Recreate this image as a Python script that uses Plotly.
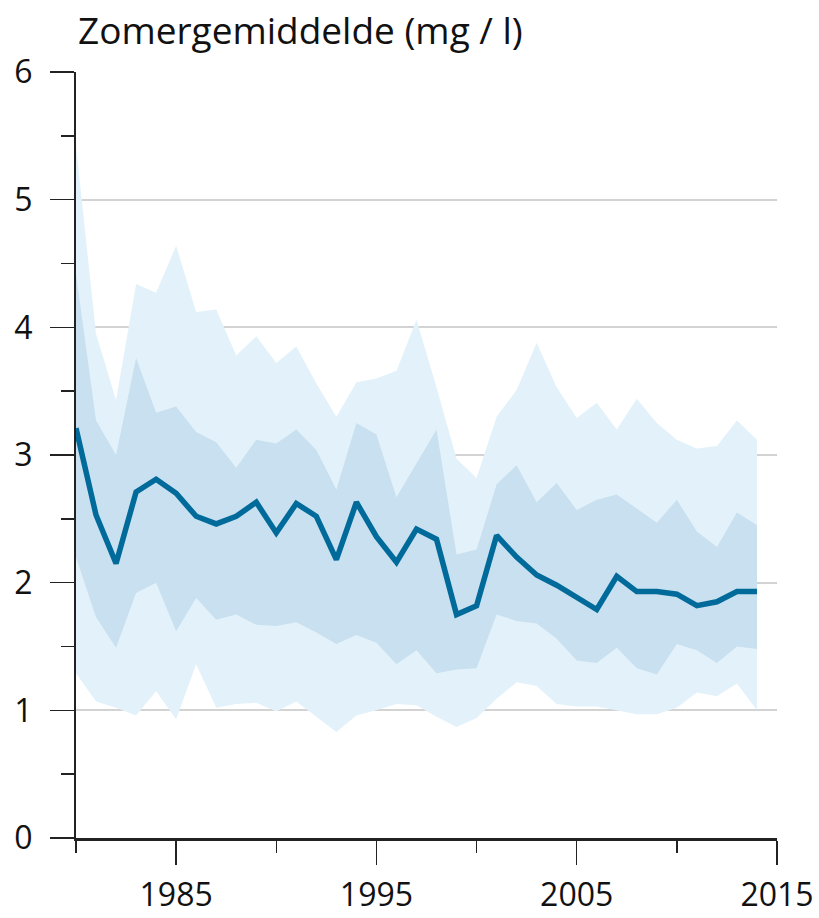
import plotly.graph_objects as go

years = list(range(1980, 2015))

mean_vals = [3.21, 2.53, 2.15, 2.71, 2.81, 2.70, 2.52, 2.46, 2.52, 2.63,
             2.39, 2.62, 2.52, 2.18, 2.63, 2.36, 2.16, 2.42, 2.34, 1.75,
             1.82, 2.37, 2.20, 2.06, 1.98, 1.88, 1.79, 2.05, 1.93, 1.93,
             1.91, 1.82, 1.85, 1.93, 1.93]

outer_upper = [5.42, 3.95, 3.43, 4.34, 4.27, 4.64, 4.12, 4.14, 3.78, 3.93,
               3.72, 3.85, 3.56, 3.30, 3.57, 3.60, 3.66, 4.06, 3.53, 2.97,
               2.82, 3.30, 3.51, 3.88, 3.53, 3.29, 3.41, 3.20, 3.44, 3.25,
               3.12, 3.05, 3.07, 3.27, 3.12]

inner_upper = [4.42, 3.27, 3.00, 3.76, 3.33, 3.38, 3.18, 3.10, 2.90, 3.12,
               3.09, 3.20, 3.04, 2.73, 3.25, 3.16, 2.67, 2.93, 3.20, 2.22,
               2.26, 2.77, 2.92, 2.63, 2.78, 2.57, 2.65, 2.69, 2.58, 2.47,
               2.65, 2.40, 2.28, 2.55, 2.45]

inner_lower = [2.20, 1.73, 1.49, 1.92, 2.00, 1.62, 1.88, 1.71, 1.75, 1.67,
               1.66, 1.69, 1.61, 1.52, 1.59, 1.53, 1.36, 1.47, 1.29, 1.32,
               1.33, 1.75, 1.70, 1.68, 1.56, 1.39, 1.37, 1.49, 1.33, 1.28,
               1.52, 1.47, 1.37, 1.50, 1.48]

outer_lower = [1.29, 1.07, 1.02, 0.96, 1.15, 0.93, 1.36, 1.02, 1.05, 1.06,
               0.99, 1.07, 0.95, 0.83, 0.96, 1.00, 1.05, 1.04, 0.95, 0.87,
               0.94, 1.09, 1.22, 1.19, 1.05, 1.03, 1.03, 1.00, 0.97, 0.97,
               1.02, 1.14, 1.11, 1.21, 1.00]

y_tickvals = [0, 1, 2, 3, 4, 5, 6]
x_tickvals = [1985, 1995, 2005, 2015]
title_text = "Zomergemiddelde (mg / l)"

LIGHT = "#e3f2fa"
MEDIUM = "#c8e0ef"
LINE = "#006b9b"
FONT = "Open Sans"
TXT = "#111111"

fig = go.Figure()
fig.add_trace(go.Scatter(x=years, y=outer_lower, mode="lines",
                         line=dict(width=0, color=LIGHT), hoverinfo="skip"))
fig.add_trace(go.Scatter(x=years, y=outer_upper, mode="lines", fill="tonexty",
                         fillcolor=LIGHT, line=dict(width=0, color=LIGHT), hoverinfo="skip"))
fig.add_trace(go.Scatter(x=years, y=inner_lower, mode="lines",
                         line=dict(width=0, color=MEDIUM), hoverinfo="skip"))
fig.add_trace(go.Scatter(x=years, y=inner_upper, mode="lines", fill="tonexty",
                         fillcolor=MEDIUM, line=dict(width=0, color=MEDIUM), hoverinfo="skip"))
fig.add_trace(go.Scatter(x=years, y=mean_vals, mode="lines",
                         line=dict(width=5.5, color=LINE, shape="linear"),
                         cliponaxis=False))

fig.update_layout(
    width=819, height=918,
    margin=dict(l=76, r=42, t=72, b=80, pad=0, autoexpand=False),
    paper_bgcolor="white", plot_bgcolor="white",
    showlegend=False,
    font=dict(family=FONT, size=28, color=TXT),
    annotations=[dict(text=title_text, xref="paper", yref="paper", x=0, y=1,
                      xanchor="left", yanchor="middle", xshift=0, yshift=43,
                      showarrow=False, font=dict(family=FONT, size=37, color=TXT))],
)

fig.update_xaxes(
    range=[1980, 2015], tickvals=x_tickvals, ticktext=[str(v) for v in x_tickvals],
    ticks="outside", ticklen=24, tickwidth=1.5, tickcolor="#222222",
    showgrid=False, zeroline=False, automargin=False,
    showline=True, linecolor="#222222", linewidth=2.5,
    tickfont=dict(family=FONT, size=32, color=TXT),
    ticklabelstandoff=3,
    minor=dict(tick0=1980, dtick=10, ticks="outside", ticklen=12,
               tickwidth=1.5, tickcolor="#222222", showgrid=False),
    fixedrange=True,
)
fig.update_yaxes(
    range=[0, 6], tickvals=y_tickvals, ticktext=[str(v) for v in y_tickvals],
    ticks="outside", ticklen=24, tickwidth=1.5, tickcolor="#222222",
    showgrid=True, gridcolor="#d3d3d3", gridwidth=2,
    zeroline=False, showline=True, linecolor="#222222", linewidth=2,
    automargin=False,
    tickfont=dict(family=FONT, size=32, color=TXT),
    ticklabelstandoff=11,
    minor=dict(tick0=0.5, dtick=1, ticks="outside", ticklen=13,
               tickwidth=1.5, tickcolor="#222222", showgrid=False),
    fixedrange=True,
)

# remove the browser's default 8px body margin so the figure fills the window
fig.write_html("out.html",
               config={"displayModeBar": False, "staticPlot": True},
               post_script="document.body.style.margin='0';document.body.style.overflow='hidden';")
